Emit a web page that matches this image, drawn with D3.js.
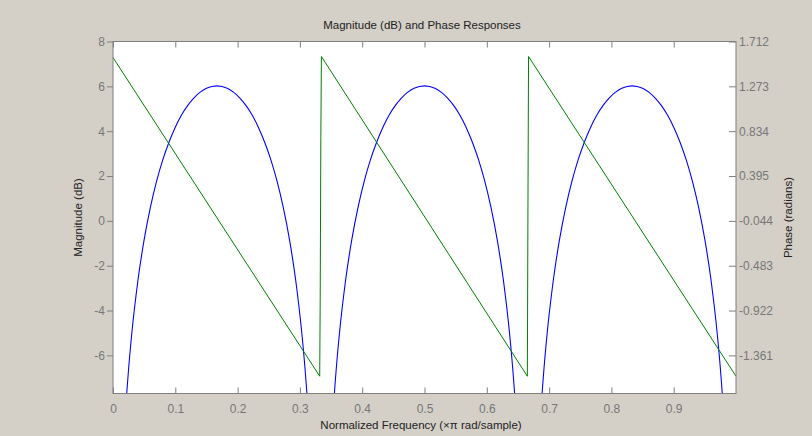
<!DOCTYPE html>
<html><head><meta charset="utf-8">
<script src="https://cdn.jsdelivr.net/npm/d3@7"></script>
<style>
html,body{margin:0;padding:0;background:#d4d0c8;}
svg{display:block;}
text{font-family:"Liberation Sans",Arial,sans-serif;}
</style></head>
<body><svg id="chart" width="812" height="436"></svg>
<script>
// Magnitude response samples (normalized frequency, dB)
const magFreq = [
  0.005,0.01,0.015,0.02,0.025,0.03,0.04,0.05,0.06,0.07,0.08,0.09,0.10,0.11,0.12,0.13,0.14,0.15,0.1667,
  0.1833,0.1933,0.2033,0.2133,0.2233,0.2333,0.2433,0.2533,0.2633,0.2733,0.2833,0.2933,0.3033,0.3083,0.3133,0.3183,0.3233,0.3283,
  0.3383,0.3433,0.3483,0.3533,0.3583,0.3633,0.3733,0.3833,0.3933,0.4033,0.4133,0.4233,0.4333,0.4433,0.4533,0.4633,0.4733,0.4833,0.5,
  0.5167,0.5267,0.5367,0.5467,0.5567,0.5667,0.5767,0.5867,0.5967,0.6067,0.6167,0.6267,0.6367,0.6417,0.6467,0.6517,0.6567,0.6617,
  0.6717,0.6767,0.6817,0.6867,0.6917,0.6967,0.7067,0.7167,0.7267,0.7367,0.7467,0.7567,0.7667,0.7767,0.7867,0.7967,0.8067,0.8167,0.8333,
  0.85,0.86,0.87,0.88,0.89,0.90,0.91,0.92,0.93,0.94,0.95,0.96,0.97,0.975,0.98,0.985,0.99,0.995
];
const magDb = [
  -20.52,-14.51,-11.00,-8.53,-6.62,-5.07,-2.66,-0.84,0.60,1.77,2.73,3.52,4.18,4.72,5.15,5.49,5.74,5.91,6.02,
  5.91,5.74,5.49,5.15,4.72,4.18,3.52,2.73,1.77,0.60,-0.84,-2.66,-5.07,-6.62,-8.53,-11.00,-14.51,-20.52,
  -20.52,-14.51,-11.00,-8.53,-6.62,-5.07,-2.66,-0.84,0.60,1.77,2.73,3.52,4.18,4.72,5.15,5.49,5.74,5.91,6.02,
  5.91,5.74,5.49,5.15,4.72,4.18,3.52,2.73,1.77,0.60,-0.84,-2.66,-5.07,-6.62,-8.53,-11.00,-14.51,-20.52,
  -20.52,-14.51,-11.00,-8.53,-6.62,-5.07,-2.66,-0.84,0.60,1.77,2.73,3.52,4.18,4.72,5.15,5.49,5.74,5.91,6.02,
  5.91,5.74,5.49,5.15,4.72,4.18,3.52,2.73,1.77,0.60,-0.84,-2.66,-5.07,-6.62,-8.53,-11.00,-14.51,-20.52
];
// Phase response samples (normalized frequency, radians)
const phaseFreq = [0, 0.3318, 0.3326, 0.3336, 0.3345, 0.6651, 0.6660, 0.6670, 1.0];
const phaseRad  = [1.555, -1.565, -0.79, 0.77, 1.565, -1.565, -0.006, 1.565, -1.565];

const xTicks = [0,0.1,0.2,0.3,0.4,0.5,0.6,0.7,0.8,0.9];
const yTicksLeft = [-6,-4,-2,0,2,4,6,8];
const yTicksRight = [-1.361,-0.922,-0.483,-0.044,0.395,0.834,1.273,1.712];

const title = "Magnitude (dB) and Phase Responses";
const xLabel = "Normalized Frequency (\u00d7\u03c0 rad/sample)";
const yLabelLeft = "Magnitude (dB)";
const yLabelRight = "Phase (radians)";

const L = 113, R = 736, T = 41.5, B = 393.5;
const svg = d3.select("#chart");
const x = d3.scaleLinear().domain([0,1]).range([L,R]);
const yL = d3.scaleLinear().domain([-7.70,8]).range([B,T]);
const yR = d3.scaleLinear().domain([1.712 - 15.70*0.2195, 1.712]).range([B,T]);

svg.append("rect").attr("x",L).attr("y",T).attr("width",R-L).attr("height",B-T).attr("fill","#fff");

svg.append("defs").append("clipPath").attr("id","clip")
  .append("rect").attr("x",L).attr("y",T).attr("width",R-L).attr("height",B-T);

const g = svg.append("g").attr("clip-path","url(#clip)");
const magData = magFreq.map((f,i)=>[f,magDb[i]]);
g.append("path").datum(magData)
  .attr("fill","none").attr("stroke","#0000ff").attr("stroke-width",1.1)
  .attr("d", d3.line().x(d=>x(d[0])).y(d=>yL(d[1])).curve(d3.curveMonotoneX));
const phData = phaseFreq.map((f,i)=>[f,phaseRad[i]]);
g.append("path").datum(phData)
  .attr("fill","none").attr("stroke","#008000").attr("stroke-width",1)
  .attr("d", d3.line().x(d=>x(d[0])).y(d=>yR(d[1])));

const axisColor = "#7f7f7f", labelColor = "#777";
function style(sel){
  sel.select(".domain").remove();
  sel.selectAll(".tick line").attr("stroke",axisColor);
  sel.selectAll(".tick text").attr("fill",labelColor).style("font-size","12px")
     .style("font-family","'Liberation Sans',Arial,sans-serif");
}
// bottom axis: ticks inward
svg.append("g").attr("transform",`translate(0,${B})`)
  .call(d3.axisBottom(x).tickValues(xTicks).tickFormat(d=>d===0?"0":d3.format(".1f")(d)).tickSizeInner(-6).tickSizeOuter(0).tickPadding(11))
  .call(style);
// top ticks
svg.append("g").attr("transform",`translate(0,${T})`)
  .call(d3.axisTop(x).tickValues(xTicks).tickFormat("").tickSizeInner(-6).tickSizeOuter(0))
  .call(style);
// left axis: ticks outward
svg.append("g").attr("transform",`translate(${L},0)`)
  .call(d3.axisLeft(yL).tickValues(yTicksLeft).tickFormat(d3.format("d")).tickSizeInner(6).tickSizeOuter(0).tickPadding(2))
  .call(style);
// right axis: ticks inward
svg.append("g").attr("transform",`translate(${R},0)`)
  .call(d3.axisRight(yR).tickValues(yTicksRight).tickFormat(d3.format(".3f")).tickSizeInner(-7).tickSizeOuter(0).tickPadding(3))
  .call(style);
svg.selectAll(".tick text").each(function(){ const t=d3.select(this); t.text(t.text().replace("\u2212","-")); });

svg.append("rect").attr("x",L).attr("y",T).attr("width",R-L).attr("height",B-T)
  .attr("fill","none").attr("stroke",axisColor).attr("stroke-width",1);

svg.append("text").attr("x",422).attr("y",29).attr("text-anchor","middle")
  .attr("fill","#222").style("font-size","11.5px").text(title);
svg.append("text").attr("x",421).attr("y",429).attr("text-anchor","middle")
  .attr("fill","#222").style("font-size","11.5px").text(xLabel);
svg.append("text").attr("transform",`translate(82,${(T+B)/2}) rotate(-90)`).attr("text-anchor","middle")
  .attr("fill","#222").style("font-size","11.5px").text(yLabelLeft);
svg.append("text").attr("transform",`translate(792,${(T+B)/2}) rotate(-90)`).attr("text-anchor","middle")
  .attr("fill","#222").style("font-size","11.5px").text(yLabelRight);
</script></body></html>
